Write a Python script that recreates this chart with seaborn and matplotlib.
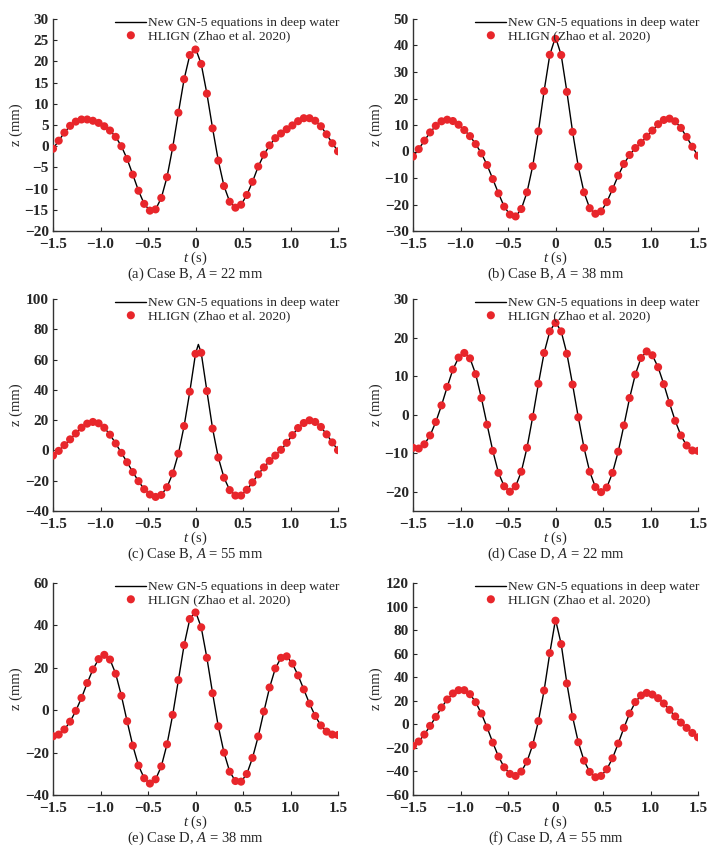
import matplotlib
matplotlib.use('Agg')
import matplotlib.pyplot as plt
import seaborn as sns
import numpy as np

# sampling times of the HLIGN points (every 0.06 s from -1.5 to 1.5)
t_pts = np.round(np.arange(51) * 0.06 - 1.5, 2)

# values (mm)
z_a = [-0.6, 1.3, 3.2, 4.8, 5.8, 6.3, 6.3, 6.0, 5.5, 4.7, 3.7, 2.2, 0.0, -3.0, -6.7, -10.5, -13.6,
       -15.2, -14.9, -12.2, -7.3, -0.3, 7.9, 15.8, 21.5, 22.8, 19.4, 12.4, 4.2, -3.4, -9.4, -13.1,
       -14.5, -13.8, -11.5, -8.4, -4.8, -2.0, 0.2, 1.9, 3.0, 4.0, 4.9, 5.9, 6.6, 6.6, 6.0, 4.7, 2.8, 0.7, -1.2]
z_b = [-1.9, 0.9, 4.1, 7.2, 9.7, 11.4, 12.0, 11.5, 10.1, 8.1, 5.8, 2.8, -0.7, -5.1, -10.4, -15.8, -20.8,
       -23.8, -24.5, -21.7, -15.4, -5.5, 7.6, 22.8, 36.5, 42.5, 36.4, 22.5, 7.4, -5.7, -15.4, -21.4,
       -23.5, -22.6, -19.1, -14.2, -9.1, -4.7, -1.3, 1.3, 3.3, 5.6, 7.9, 10.3, 11.9, 12.4, 11.4, 8.9, 5.5, 1.8, -1.6]
z_c = [-3.4, -0.3, 3.5, 7.3, 11.2, 15.0, 17.7, 18.8, 17.9, 15.0, 10.4, 4.6, -1.6, -7.8, -14.3, -20.3, -25.6,
       -29.1, -30.7, -29.4, -24.3, -15.2, -2.1, 16.1, 38.8, 63.8, 64.5, 39.2, 14.4, -4.7, -18.0, -26.2,
       -29.8, -29.8, -26.0, -21.1, -15.8, -11.2, -6.9, -3.4, 0.4, 5.0, 10.1, 14.8, 18.1, 19.9, 18.8, 15.5, 10.6, 5.3, 0.2]
z_d = [-8.6, -8.8, -7.7, -5.4, -1.9, 2.4, 7.2, 11.7, 14.8, 16.0, 14.6, 10.5, 4.3, -2.6, -9.4, -15.1, -18.6,
       -20.0, -18.6, -14.8, -8.6, -0.6, 8.0, 16.0, 21.6, 23.8, 21.6, 15.8, 7.8, -0.7, -8.6, -14.8,
       -18.8, -20.1, -18.9, -15.1, -9.6, -2.8, 4.3, 10.4, 14.7, 16.4, 15.4, 12.3, 7.9, 3.0, -1.6, -5.4, -8.0, -9.3, -9.4]
z_e = [-12.3, -11.5, -9.1, -5.4, -0.3, 5.8, 12.8, 19.2, 24.1, 26.1, 23.9, 17.2, 6.8, -5.2, -16.7, -26.1, -32.1,
       -34.6, -32.6, -26.5, -16.1, -2.2, 14.2, 30.7, 43.0, 46.1, 39.1, 24.7, 8.0, -7.6, -20.0, -29.0,
       -33.4, -33.7, -30.1, -22.5, -12.4, -0.6, 10.7, 19.7, 24.7, 25.4, 22.0, 16.4, 9.8, 3.1, -2.7, -7.2, -10.1, -11.5, -11.7]
z_f = [-18.3, -14.6, -8.7, -1.3, 6.3, 14.3, 21.1, 26.2, 29.0, 29.0, 25.6, 18.8, 9.2, -2.7, -15.5, -27.4, -36.5,
       -42.1, -43.8, -40.1, -31.6, -17.5, 2.7, 28.7, 60.5, 88.0, 68.1, 34.7, 6.3, -15.2, -30.8, -40.4,
       -44.9, -43.8, -38.2, -28.8, -16.3, -3.0, 9.2, 18.9, 24.5, 26.7, 25.3, 22.2, 17.7, 12.3, 6.7, 1.5, -3.0, -7.3, -11.0]

# crest of the GN-5 curve where it differs from the points
peak_t = [0.0, 0.0, 0.03, 0.0, 0.0, 0.0]
peak_z = [23.1, 43.2, 70.0, 24.0, 46.6, 89.0]

captions = ['(a) Case B, $A$ = 22 mm', '(b) Case B, $A$ = 38 mm', '(c) Case B, $A$ = 55 mm',
            '(d) Case D, $A$ = 22 mm', '(e) Case D, $A$ = 38 mm', '(f) Case D, $A$ = 55 mm']
ylims = [(-20, 30), (-30, 50), (-40, 100), (-25, 30), (-40, 60), (-60, 120)]
yticks = [np.arange(-20, 31, 5), np.arange(-30, 51, 10), np.arange(-40, 101, 20),
          np.arange(-20, 31, 10), np.arange(-40, 61, 20), np.arange(-60, 121, 20)]
xticks = [-1.5, -1.0, -0.5, 0, 0.5, 1.0, 1.5]
xticklabels = ['\u22121.5', '\u22121.0', '\u22120.5', '0', '0.5', '1.0', '1.5']
all_z = [z_a, z_b, z_c, z_d, z_e, z_f]

sns.set_style('ticks')
plt.rcParams['font.family'] = ['Liberation Serif', 'DejaVu Serif']
plt.rcParams['mathtext.fontset'] = 'custom'
plt.rcParams['mathtext.rm'] = 'Liberation Serif'
plt.rcParams['mathtext.it'] = 'Liberation Serif:italic'

fig = plt.figure(figsize=(7.28, 8.5), dpi=100)
lefts = [53 / 728, 413 / 728]
bottoms = [(850 - 231) / 850, (850 - 511) / 850, (850 - 795) / 850]
red = '#e8262b'

for i in range(6):
    row, col = i // 2, i % 2
    ax = fig.add_axes([lefts[col], bottoms[row], 285 / 728, 212 / 850])
    z = all_z[i]

    # GN-5 line: the point values plus the crest
    lt = list(t_pts) + [peak_t[i]]
    lz = list(z) + [peak_z[i]]
    order = np.argsort(lt, kind='stable')
    lt = np.array(lt)[order]
    lz = np.array(lz)[order]
    if peak_t[i] == 0.0:
        keep = ~((lt == 0.0) & (lz != peak_z[i]))
        lt, lz = lt[keep], lz[keep]

    sns.lineplot(x=lt, y=lz, ax=ax, color='black', lw=1.0, label='New GN-5 equations in deep water',
                 estimator=None, sort=False, zorder=2)
    sns.scatterplot(x=t_pts, y=z, ax=ax, color=red, s=34, edgecolor='none', zorder=3,
                    label='HLIGN (Zhao et al. 2020)')

    ax.set_xlim(-1.5, 1.5)
    ax.set_ylim(*ylims[i])
    ax.set_xticks(xticks)
    ax.set_xticklabels(xticklabels)
    ax.set_yticks(yticks[i])
    ax.set_yticklabels([str(v).replace('-', '\u2212') for v in yticks[i]])
    for lab in ax.get_xticklabels() + ax.get_yticklabels():
        lab.set_fontweight('bold')
        lab.set_fontsize(11)
    ax.tick_params(axis='y', direction='in', length=3, width=0.8, pad=3)
    ax.tick_params(axis='x', direction='in', length=3, width=0.8, pad=5)
    sns.despine(ax=ax)
    for sp in ['left', 'bottom']:
        ax.spines[sp].set_linewidth(1.0)
        ax.spines[sp].set_color('#333333')

    ax.set_xlabel('$t$ (s)', fontsize=10.5, labelpad=-1)
    ax.set_ylabel('z (mm)', fontsize=10.5, labelpad=1)
    ax.text(0.5, -0.205, captions[i], transform=ax.transAxes, ha='center', va='center', fontsize=10.5)

    ax.legend(loc='upper right', bbox_to_anchor=(1.025, 1.035), frameon=False, fontsize=9.7,
              handlelength=2.3, handletextpad=0.15, labelspacing=0.0, borderaxespad=0)

fig.savefig('out.png', dpi=100)
